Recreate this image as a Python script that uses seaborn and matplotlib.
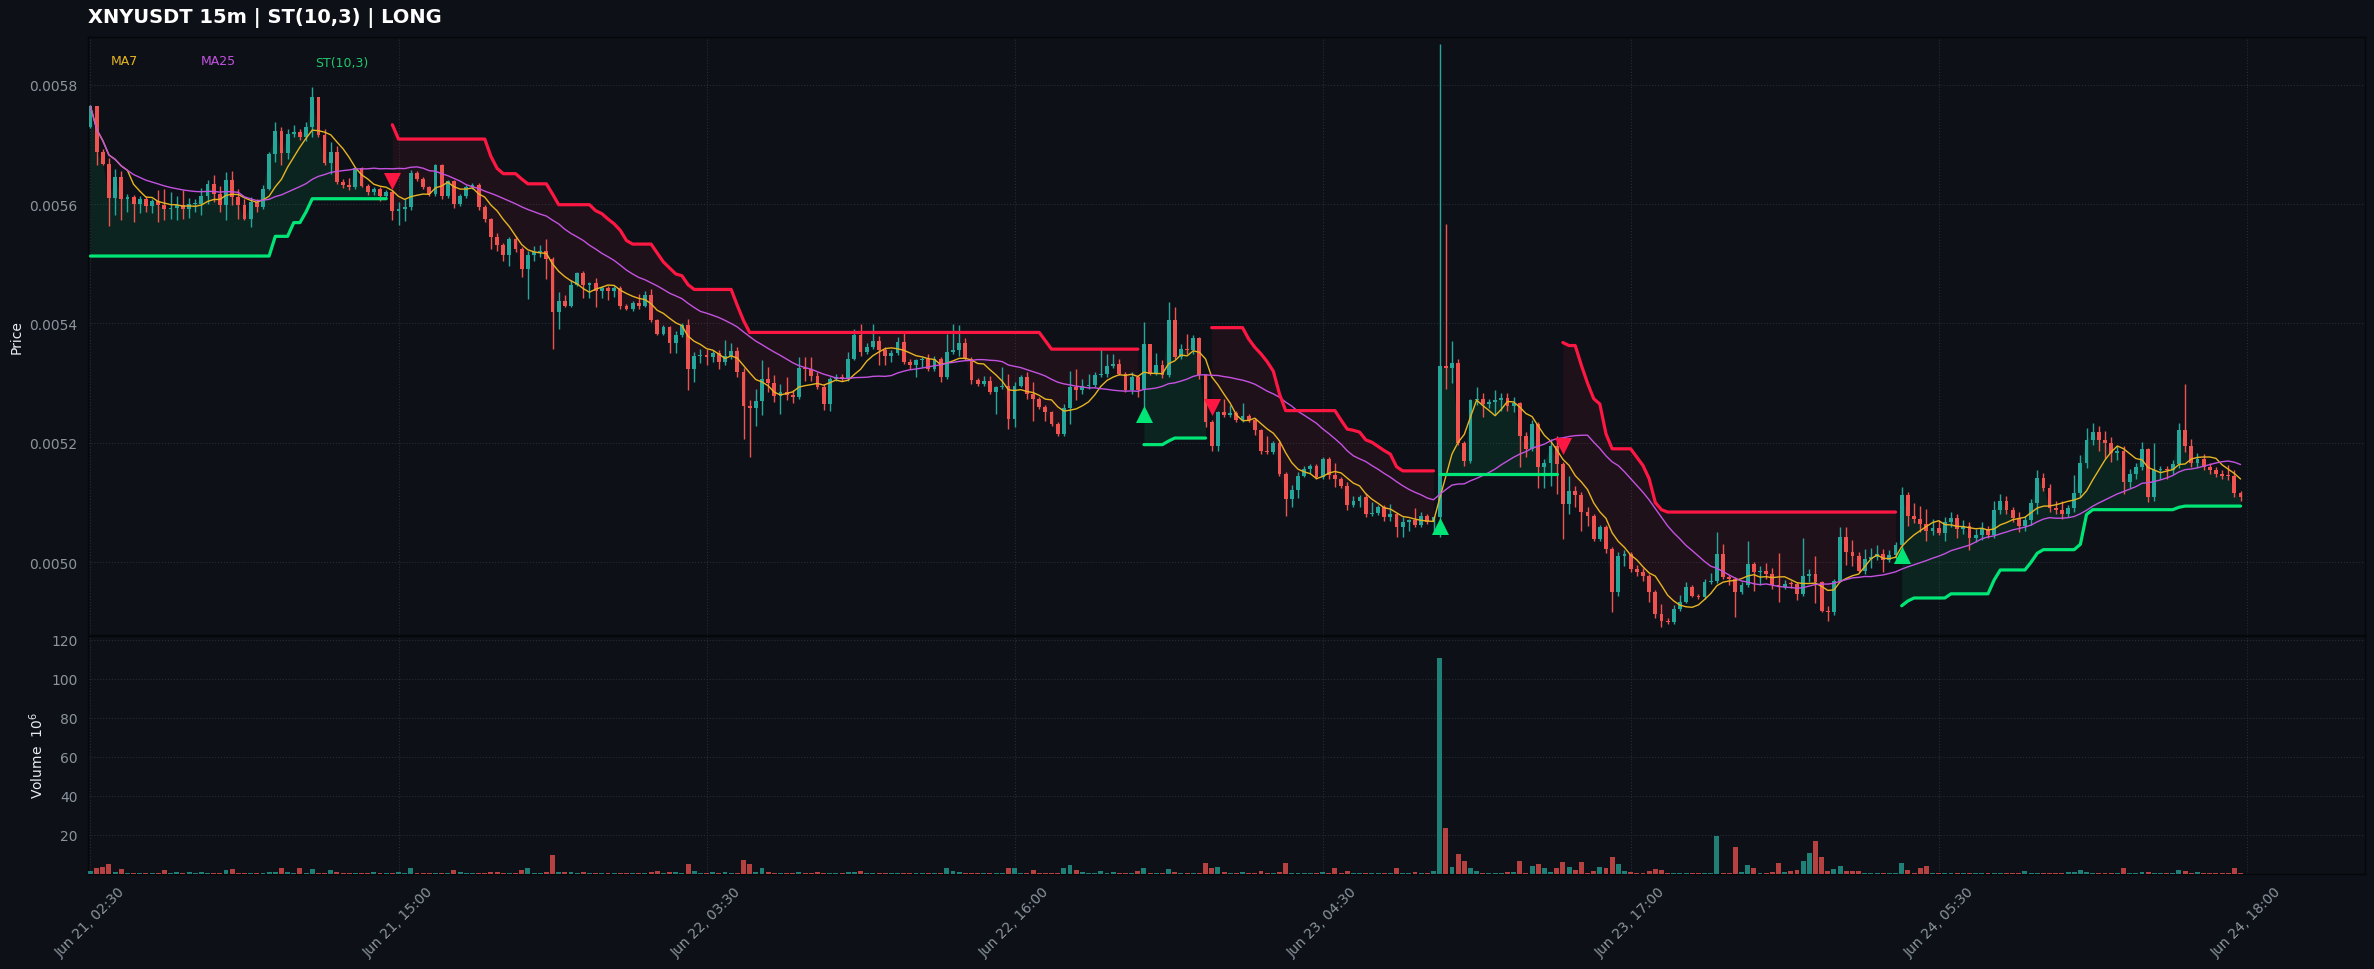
import numpy as np
import pandas as pd
import matplotlib
matplotlib.use("Agg")
import matplotlib.pyplot as plt
import seaborn as sns
from matplotlib.ticker import FormatStrFormatter

# ---------------- data (prices in 1e-6 USDT, volume in millions) ----------------
first_open_u = 5730
close_u = [
    5764, 5687, 5668, 5610, 5646, 5609, 5612, 5600, 5608, 5597,
    5606, 5598, 5591, 5594, 5598, 5592, 5600, 5601, 5613, 5633,
    5617, 5599, 5640, 5612, 5598, 5575, 5603, 5595, 5626, 5684,
    5722, 5686, 5718, 5721, 5712, 5730, 5779, 5715, 5669, 5687,
    5637, 5632, 5628, 5660, 5631, 5620, 5625, 5614, 5620, 5589,
    5592, 5595, 5652, 5642, 5628, 5617, 5665, 5614, 5638, 5600,
    5614, 5628, 5632, 5595, 5575, 5545, 5532, 5514, 5542, 5525,
    5492, 5514, 5520, 5521, 5508, 5419, 5438, 5429, 5465, 5485,
    5464, 5467, 5455, 5460, 5455, 5460, 5430, 5425, 5434, 5430,
    5447, 5405, 5383, 5394, 5368, 5381, 5397, 5323, 5345, 5347,
    5344, 5350, 5335, 5345, 5354, 5318, 5262, 5258, 5270, 5307,
    5300, 5279, 5285, 5280, 5277, 5326, 5324, 5312, 5293, 5265,
    5307, 5310, 5307, 5341, 5380, 5352, 5361, 5371, 5355, 5345,
    5350, 5369, 5335, 5330, 5338, 5341, 5324, 5340, 5310, 5352,
    5356, 5368, 5341, 5305, 5299, 5304, 5285, 5293, 5296, 5240,
    5296, 5310, 5282, 5273, 5260, 5251, 5232, 5215, 5259, 5293,
    5288, 5296, 5297, 5313, 5316, 5329, 5332, 5316, 5288, 5310,
    5288, 5366, 5316, 5330, 5313, 5405, 5344, 5357, 5355, 5375,
    5313, 5235, 5195, 5251, 5246, 5250, 5238, 5245, 5238, 5221,
    5187, 5184, 5200, 5148, 5106, 5121, 5145, 5156, 5162, 5142,
    5173, 5146, 5140, 5128, 5095, 5103, 5110, 5081, 5082, 5092,
    5075, 5080, 5059, 5067, 5070, 5062, 5078, 5067, 5075, 5329,
    5325, 5333, 5200, 5170, 5271, 5273, 5265, 5268, 5271, 5275,
    5262, 5266, 5212, 5190, 5232, 5159, 5167, 5195, 5165, 5098,
    5120, 5112, 5084, 5078, 5039, 5059, 5022, 4950, 5011, 5014,
    4989, 4983, 4977, 4950, 4913, 4902, 4899, 4921, 4934, 4958,
    4944, 4941, 4966, 4968, 5014, 4975, 4972, 4950, 4962, 4997,
    4983, 4986, 4980, 4961, 4958, 4964, 4963, 4947, 4977, 4980,
    4966, 4919, 4917, 4969, 5042, 5017, 5011, 4986, 5005, 5009,
    5014, 5004, 5012, 5028, 5112, 5078, 5072, 5064, 5053, 5058,
    5049, 5067, 5074, 5055, 5061, 5040, 5046, 5055, 5046, 5087,
    5103, 5087, 5074, 5060, 5070, 5100, 5141, 5125, 5090, 5087,
    5081, 5090, 5116, 5167, 5205, 5218, 5205, 5199, 5183, 5186,
    5135, 5148, 5160, 5189, 5109, 5154, 5155, 5154, 5164, 5221,
    5195, 5167, 5173, 5160, 5154, 5148, 5145, 5144, 5116, 5109,
]
upper_wick_u = [
    2, 0, 6, 9, 13, 10, 5, 3, 5, 5,
    3, 17, 28, 26, 16, 25, 10, 8, 14, 7,
    15, 14, 14, 16, 14, 10, 9, 5, 6, 3,
    15, 7, 8, 12, 5, 8, 17, 0, 11, 17,
    11, 5, 12, 3, 2, 3, 3, 3, 4, 3,
    11, 13, 5, 4, 3, 3, 3, 3, 3, 3,
    3, 4, 3, 3, 3, 2, 6, 3, 3, 5,
    3, 8, 10, 10, 21, 3, 14, 10, 7, 1,
    3, 3, 9, 3, 3, 2, 3, 2, 4, 16,
    8, 11, 3, 3, 2, 7, 3, 10, 7, 11,
    11, 5, 6, 28, 14, 7, 8, 10, 20, 31,
    20, 14, 14, 25, 8, 18, 17, 19, 6, 6,
    3, 6, 5, 11, 11, 19, 6, 28, 8, 6,
    6, 8, 17, 6, 3, 3, 8, 6, 3, 31,
    43, 30, 8, 3, 4, 8, 8, 3, 31, 20,
    6, 3, 8, 20, 4, 3, 3, 3, 6, 28,
    31, 11, 18, 6, 42, 20, 17, 8, 3, 8,
    3, 36, 0, 20, 8, 31, 22, 8, 25, 5,
    3, 3, 3, 3, 22, 14, 3, 22, 3, 3,
    3, 25, 3, 3, 3, 8, 6, 6, 3, 3,
    3, 3, 20, 3, 6, 8, 3, 6, 19, 3,
    3, 17, 3, 8, 3, 20, 6, 3, 3, 540,
    238, 37, 8, 3, 3, 20, 11, 6, 18, 8,
    8, 10, 3, 6, 6, 3, 6, 11, 17, 3,
    25, 8, 6, 8, 3, 3, 3, 3, 6, 6,
    3, 6, 8, 3, 3, 17, 4, 8, 11, 8,
    3, 3, 6, 14, 36, 17, 3, 3, 4, 39,
    3, 8, 13, 11, 55, 6, 4, 3, 64, 8,
    31, 3, 7, 3, 17, 17, 20, 6, 17, 14,
    14, 8, 8, 6, 14, 6, 22, 22, 25, 14,
    12, 8, 10, 6, 10, 6, 10, 12, 6, 15,
    12, 8, 6, 10, 8, 6, 14, 8, 6, 12,
    15, 6, 30, 12, 20, 15, 10, 15, 10, 8,
    8, 8, 6, 12, 3, 45, 6, 6, 8, 12,
    77, 12, 10, 8, 6, 6, 6, 18, 10, 3,
]
lower_wick_u = [
    2, 22, 3, 46, 29, 36, 22, 30, 15, 10,
    12, 28, 18, 16, 21, 17, 15, 14, 20, 13,
    14, 12, 26, 14, 23, 2, 14, 8, 3, 3,
    14, 21, 10, 5, 5, 6, 18, 3, 4, 18,
    3, 5, 5, 3, 3, 5, 5, 8, 6, 16,
    24, 20, 5, 3, 3, 4, 3, 6, 3, 6,
    3, 3, 3, 5, 5, 20, 10, 10, 17, 5,
    14, 51, 10, 8, 33, 62, 28, 2, 2, 2,
    21, 21, 27, 12, 15, 10, 5, 3, 4, 5,
    3, 3, 3, 3, 18, 17, 3, 35, 21, 12,
    14, 8, 11, 5, 5, 8, 55, 82, 29, 24,
    14, 11, 31, 9, 11, 3, 20, 8, 3, 10,
    11, 3, 3, 3, 3, 6, 3, 3, 25, 14,
    10, 3, 3, 6, 20, 11, 3, 3, 8, 3,
    3, 10, 3, 6, 3, 3, 3, 36, 3, 17,
    14, 3, 8, 36, 3, 14, 3, 3, 3, 28,
    17, 6, 6, 3, 3, 6, 3, 3, 3, 6,
    11, 28, 3, 3, 5, 3, 3, 3, 6, 6,
    6, 8, 8, 8, 3, 3, 3, 3, 3, 8,
    6, 3, 3, 3, 28, 14, 14, 3, 6, 3,
    3, 6, 14, 3, 8, 3, 11, 6, 3, 3,
    6, 6, 17, 17, 14, 3, 3, 3, 20, 33,
    35, 25, 3, 8, 3, 8, 22, 6, 22, 17,
    8, 10, 53, 14, 3, 34, 34, 40, 50, 59,
    17, 20, 31, 17, 3, 3, 6, 34, 6, 17,
    6, 6, 8, 17, 6, 11, 3, 3, 3, 3,
    3, 3, 3, 3, 3, 3, 11, 42, 3, 3,
    31, 22, 8, 6, 25, 3, 6, 11, 3, 11,
    34, 3, 15, 6, 3, 22, 17, 3, 6, 14,
    6, 20, 3, 6, 11, 17, 6, 14, 17, 8,
    4, 14, 8, 15, 8, 20, 6, 8, 6, 6,
    6, 6, 6, 10, 8, 8, 20, 6, 6, 6,
    8, 6, 6, 6, 10, 8, 18, 25, 15, 12,
    20, 10, 8, 6, 8, 6, 15, 15, 6, 6,
    10, 8, 8, 6, 6, 6, 6, 6, 6, 6,
]
volume_m = [
    1.4, 2.9, 3.4, 5.0, 1.2, 2.6, 0.6, 0.6, 0.4, 0.4,
    0.3, 0.3, 2.0, 0.4, 0.8, 0.4, 1.2, 0.4, 1.2, 0.6,
    0.4, 0.4, 2.2, 2.6, 0.3, 0.3, 0.3, 0.5, 0.4, 0.8,
    1.2, 3.1, 1.2, 0.4, 3.1, 0.6, 2.6, 0.6, 0.7, 2.2,
    1.2, 0.5, 0.5, 0.5, 0.4, 0.4, 1.2, 0.4, 0.3, 0.4,
    1.0, 0.4, 3.1, 0.6, 0.3, 0.3, 0.3, 0.6, 0.3, 2.0,
    0.8, 0.3, 0.3, 0.6, 0.3, 1.0, 1.0, 0.5, 0.3, 0.5,
    1.8, 3.3, 0.4, 0.3, 1.0, 9.5, 1.2, 0.8, 0.8, 0.3,
    1.0, 0.5, 0.5, 0.3, 0.3, 0.3, 0.5, 0.3, 0.3, 0.3,
    0.5, 1.0, 1.7, 0.3, 1.0, 1.0, 0.3, 5.1, 1.7, 0.3,
    0.5, 1.0, 0.3, 1.0, 0.3, 0.3, 7.2, 5.1, 1.2, 3.1,
    1.0, 0.3, 0.4, 0.4, 0.4, 1.0, 0.3, 0.6, 1.0, 0.5,
    0.3, 0.3, 0.3, 1.2, 1.2, 1.7, 0.3, 0.5, 0.5, 0.3,
    0.3, 0.3, 0.5, 0.3, 0.6, 0.6, 0.3, 0.3, 0.3, 3.1,
    1.4, 1.2, 0.5, 0.3, 0.4, 0.3, 0.3, 0.3, 0.3, 3.1,
    3.1, 0.4, 0.3, 2.0, 0.3, 0.3, 0.3, 0.5, 3.1, 4.8,
    2.0, 0.8, 0.5, 0.5, 1.7, 0.6, 1.0, 0.4, 0.3, 0.3,
    1.7, 3.1, 0.5, 0.3, 0.5, 2.6, 0.8, 0.3, 0.5, 0.5,
    0.5, 5.6, 3.1, 3.6, 1.0, 0.3, 0.5, 1.2, 0.3, 0.3,
    1.7, 0.3, 0.5, 1.2, 5.6, 0.5, 0.3, 0.3, 0.3, 0.3,
    1.2, 0.3, 3.1, 0.3, 1.7, 0.3, 0.3, 0.5, 0.5, 0.3,
    0.3, 0.5, 3.1, 0.5, 0.5, 1.0, 0.3, 0.5, 1.5, 110.8,
    23.4, 3.4, 10.1, 6.8, 2.9, 1.5, 0.3, 0.3, 0.3, 0.3,
    0.8, 0.8, 6.5, 0.5, 3.9, 5.0, 2.9, 1.0, 2.9, 6.0,
    3.4, 1.9, 6.0, 0.3, 1.4, 3.4, 2.9, 8.5, 5.0, 1.4,
    1.2, 0.3, 0.3, 1.5, 2.4, 1.9, 0.3, 0.3, 0.3, 0.3,
    0.3, 0.3, 0.3, 0.3, 19.5, 0.4, 0.3, 14.0, 1.2, 4.4,
    2.9, 0.3, 0.3, 1.0, 5.8, 1.0, 1.5, 1.9, 6.5, 10.6,
    16.9, 8.7, 1.5, 2.5, 3.9, 1.5, 1.3, 1.5, 0.5, 0.5,
    0.3, 0.3, 0.3, 0.3, 5.8, 2.3, 0.3, 3.3, 3.9, 0.5,
    0.3, 0.3, 0.3, 0.5, 0.5, 0.3, 0.5, 0.7, 0.3, 0.3,
    0.3, 0.3, 0.3, 0.3, 1.5, 0.3, 0.3, 0.3, 0.3, 0.3,
    0.3, 1.2, 1.0, 2.0, 1.0, 0.5, 0.5, 0.3, 0.3, 0.3,
    2.9, 0.3, 0.3, 0.8, 0.8, 0.3, 0.3, 0.3, 0.3, 2.0,
    1.5, 0.3, 0.8, 0.3, 0.3, 0.3, 0.3, 0.3, 2.9, 0.3,
]
# SuperTrend(10,3) line
st_line_u = [
    5513, 5513, 5513, 5513, 5513, 5513, 5513, 5513, 5513, 5513,
    5513, 5513, 5513, 5513, 5513, 5513, 5513, 5513, 5513, 5513,
    5513, 5513, 5513, 5513, 5513, 5513, 5513, 5513, 5513, 5513,
    5546, 5546, 5546, 5569, 5569, 5587, 5609, 5609, 5609, 5609,
    5609, 5609, 5609, 5609, 5609, 5609, 5609, 5609, 5609, 5733,
    5709, 5709, 5709, 5709, 5709, 5709, 5709, 5709, 5709, 5709,
    5709, 5709, 5709, 5709, 5709, 5680, 5660, 5651, 5651, 5651,
    5642, 5634, 5634, 5634, 5634, 5617, 5599, 5599, 5599, 5599,
    5599, 5599, 5589, 5584, 5575, 5567, 5556, 5539, 5533, 5533,
    5533, 5533, 5518, 5503, 5493, 5483, 5480, 5465, 5457, 5457,
    5457, 5457, 5457, 5457, 5457, 5430, 5405, 5385, 5385, 5385,
    5385, 5385, 5385, 5385, 5385, 5385, 5385, 5385, 5385, 5385,
    5385, 5385, 5385, 5385, 5385, 5385, 5385, 5385, 5385, 5385,
    5385, 5385, 5385, 5385, 5385, 5385, 5385, 5385, 5385, 5385,
    5385, 5385, 5385, 5385, 5385, 5385, 5385, 5385, 5385, 5385,
    5385, 5385, 5385, 5385, 5385, 5371, 5357, 5357, 5357, 5357,
    5357, 5357, 5357, 5357, 5357, 5357, 5357, 5357, 5357, 5357,
    5357, 5197, 5197, 5197, 5197, 5203, 5208, 5208, 5208, 5208,
    5208, 5208, 5393, 5393, 5393, 5393, 5393, 5393, 5374, 5360,
    5349, 5336, 5320, 5282, 5254, 5254, 5254, 5254, 5254, 5254,
    5254, 5254, 5254, 5238, 5223, 5221, 5218, 5205, 5201, 5194,
    5187, 5181, 5160, 5153, 5153, 5153, 5153, 5153, 5153, 5147,
    5147, 5147, 5147, 5147, 5147, 5147, 5147, 5147, 5147, 5147,
    5147, 5147, 5147, 5147, 5147, 5147, 5147, 5147, 5147, 5368,
    5363, 5363, 5330, 5300, 5274, 5265, 5215, 5190, 5190, 5190,
    5190, 5176, 5162, 5140, 5100, 5088, 5084, 5084, 5084, 5084,
    5084, 5084, 5084, 5084, 5084, 5084, 5084, 5084, 5084, 5084,
    5084, 5084, 5084, 5084, 5084, 5084, 5084, 5084, 5084, 5084,
    5084, 5084, 5084, 5084, 5084, 5084, 5084, 5084, 5084, 5084,
    5084, 5084, 5084, 5084, 4927, 4935, 4940, 4940, 4940, 4940,
    4940, 4940, 4947, 4947, 4947, 4947, 4947, 4947, 4947, 4970,
    4987, 4987, 4987, 4987, 4987, 5000, 5015, 5021, 5021, 5021,
    5021, 5021, 5021, 5030, 5080, 5088, 5088, 5088, 5088, 5088,
    5088, 5088, 5088, 5088, 5088, 5088, 5088, 5088, 5088, 5092,
    5094, 5094, 5094, 5094, 5094, 5094, 5094, 5094, 5094, 5094,
]
st_up_segments = [(0, 48), (171, 181), (219, 238), (294, 349)]
st_down_segments = [(49, 170), (182, 218), (239, 293)]
buy_idx = [171, 219, 294]
buy_px_u = [5249, 5060, 5012]
sell_idx = [49, 182, 239]
sell_px_u = [5638, 5260, 5194]
tick_idx = [0, 50, 100, 150, 200, 250, 300, 350]
tick_labels = ["Jun 21, 02:30", "Jun 21, 15:00", "Jun 22, 03:30", "Jun 22, 16:00",
               "Jun 23, 04:30", "Jun 23, 17:00", "Jun 24, 05:30", "Jun 24, 18:00"]
title_text = "XNYUSDT 15m | ST(10,3) | LONG"

# ---------------- styling ----------------
sns.set_theme(style="dark")
plt.rcParams["font.family"] = ["DejaVu Sans"]
BG = "#0d1117"
UP = "#26a69a"
DN = "#ef5350"
STG = "#00e676"
STR = "#ff1744"
MA7C = "#e6b422"
MA25C = "#c452e0"
TICKC = "#8b949e"
GRIDC = "#262c36"

close = np.array(close_u) / 1e6
open_ = np.concatenate([[first_open_u], close_u[:-1]]) / 1e6
high = np.maximum(open_, close) + np.array(upper_wick_u) / 1e6
low = np.minimum(open_, close) - np.array(lower_wick_u) / 1e6
vol = np.array(volume_m)
st = np.array(st_line_u) / 1e6
n = len(close)
x = np.arange(n)
is_up = close >= open_
ccols = np.where(is_up, UP, DN)

ma7 = pd.Series(close).rolling(7, min_periods=1).mean()
ma25 = pd.Series(close).rolling(25, min_periods=1).mean()

fig = plt.figure(figsize=(23.74, 9.70), dpi=100, facecolor=BG)
ax1 = fig.add_axes([0.03707, 0.34433, 0.95914, 0.61649])
ax2 = fig.add_axes([0.03707, 0.09794, 0.95914, 0.24536], sharex=ax1)

for ax in (ax1, ax2):
    ax.set_facecolor(BG)
    ax.grid(True, color=GRIDC, linestyle=":", linewidth=0.8)
    for s in ax.spines.values():
        s.set_color("#05070a")
        s.set_linewidth(1.0)
    ax.tick_params(colors=TICKC, labelsize=10, length=4, width=0.8)
    ax.set_axisbelow(True)

# SuperTrend fills
for a, b in st_up_segments:
    sl = slice(a, b + 1)
    ax1.fill_between(x[sl], st[sl], close[sl], color=STG, alpha=0.09, linewidth=0, zorder=1)
for a, b in st_down_segments:
    sl = slice(a, b + 1)
    ax1.fill_between(x[sl], st[sl], close[sl], color=STR, alpha=0.08, linewidth=0, zorder=1)

# candles
ax1.vlines(x, low, high, colors=ccols, linewidth=1.0, zorder=3)
body_b = np.minimum(open_, close)
body_h = np.maximum(np.abs(close - open_), 1.5e-6)
ax1.bar(x, body_h, bottom=body_b, width=0.62, color=ccols, linewidth=0, zorder=4)

# moving averages
sns.lineplot(x=x, y=ma7.values, ax=ax1, color=MA7C, linewidth=1.0, zorder=5)
sns.lineplot(x=x, y=ma25.values, ax=ax1, color=MA25C, linewidth=1.0, zorder=5)

# SuperTrend lines
for a, b in st_up_segments:
    sns.lineplot(x=x[a:b + 1], y=st[a:b + 1], ax=ax1, color=STG, linewidth=2.3, zorder=6)
for a, b in st_down_segments:
    sns.lineplot(x=x[a:b + 1], y=st[a:b + 1], ax=ax1, color=STR, linewidth=2.3, zorder=6)

# signals
ax1.scatter(buy_idx, np.array(buy_px_u) / 1e6, marker="^", s=150, color=STG, linewidths=0, zorder=7)
ax1.scatter(sell_idx, np.array(sell_px_u) / 1e6, marker="v", s=150, color=STR, linewidths=0, zorder=7)

# legend texts
ax1.text(0.0099, 0.960, "MA7", color=MA7C, fontsize=9, transform=ax1.transAxes, va="center")
ax1.text(0.0497, 0.960, "MA25", color=MA25C, fontsize=9, transform=ax1.transAxes, va="center")
ax1.text(0.0997, 0.958, "ST(10,3)", color="#22c56e", fontsize=9, transform=ax1.transAxes, va="center")

ax1.set_xlim(-0.4, 369.2)
ax1.set_ylim(0.004878, 0.00588)
ax1.set_yticks([0.0050, 0.0052, 0.0054, 0.0056, 0.0058])
ax1.yaxis.set_major_formatter(FormatStrFormatter("%.4f"))
ax1.tick_params(labelbottom=False)
ax1.set_ylabel("Price", color="#e6edf3", fontsize=10)
ax1.set_xlabel("")

# volume
vcols = np.where(is_up, UP, DN)
ax2.bar(x, vol, width=0.8, color=vcols, alpha=0.75, linewidth=0, zorder=3)
ax2.set_ylim(0, 121.9)
ax2.set_yticks([20, 40, 60, 80, 100, 120])
ax2.set_ylabel("Volume  $10^6$", color="#e6edf3", fontsize=10)
ax2.set_xticks(tick_idx)
ax2.set_xticklabels(tick_labels, rotation=45, ha="center", color=TICKC, fontsize=10)
ax2.set_xlabel("")

fig.text(0.03707, 1 - 18 / 970, title_text, fontsize=14, fontweight="bold",
         color="white", va="center", ha="left")

fig.savefig("out.png", dpi=100, facecolor=BG)
